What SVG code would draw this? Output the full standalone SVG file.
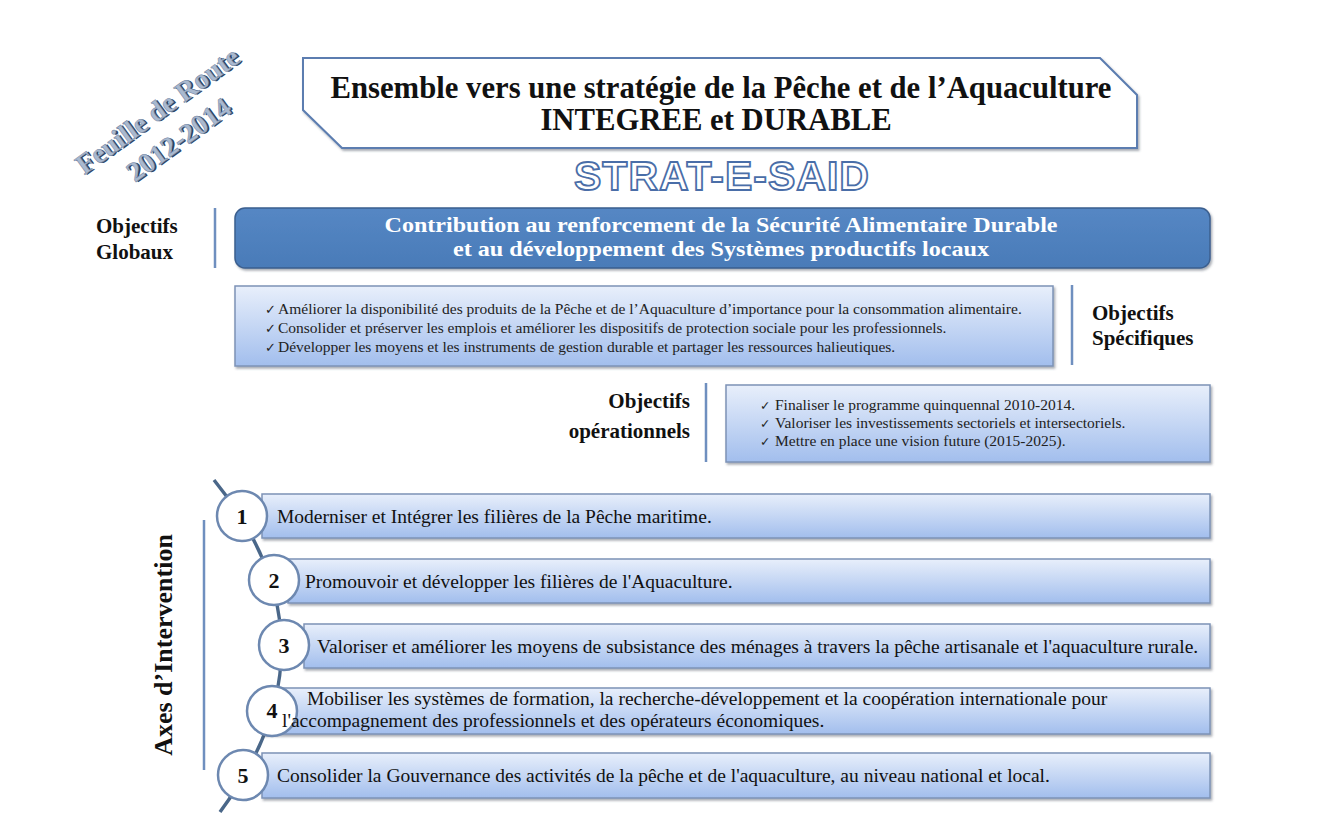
<svg xmlns="http://www.w3.org/2000/svg" width="1320" height="839" viewBox="0 0 1320 839">
<defs>
<linearGradient id="boxGrad" x1="0" y1="0" x2="0" y2="1">
<stop offset="0" stop-color="#e8effb"/>
<stop offset="1" stop-color="#a2beed"/>
</linearGradient>
<linearGradient id="banGrad" x1="0" y1="0" x2="0" y2="1">
<stop offset="0" stop-color="#5587c4"/>
<stop offset="1" stop-color="#4a7bb8"/>
</linearGradient>
<filter id="sh" x="-5%" y="-20%" width="110%" height="150%">
<feDropShadow dx="1.5" dy="2" stdDeviation="1.2" flood-color="#404a5a" flood-opacity="0.45"/>
</filter>
</defs>
<style>
.serif{font-family:"Liberation Serif","Times New Roman",serif}
.b{font-weight:bold}
.box{fill:url(#boxGrad);stroke:#7d93b6;stroke-width:1.5;filter:url(#sh)}
.ax{font-family:"Liberation Serif","Times New Roman",serif;font-size:19.5px;fill:#111}
.lst{font-family:"Liberation Serif","Times New Roman",serif;font-size:15.5px;fill:#222}
.ck{font-family:"DejaVu Sans",sans-serif}
.circ{fill:#fff;stroke:#6d88b0;stroke-width:2.5}
.num{font-family:"Liberation Serif","Times New Roman",serif;font-weight:bold;font-size:22px;fill:#111;text-anchor:middle}
.lbl{font-family:"Liberation Serif","Times New Roman",serif;font-weight:bold;font-size:21px;fill:#111}
.sep{stroke:#6f8fbf;stroke-width:2.5}
</style>
<rect width="1320" height="839" fill="#fff"/>

<g id="feuille-de-route" class="serif b" font-size="28" text-anchor="middle" transform="translate(163,118) rotate(-36)">
<text x="1.5" y="1.5" fill="#2c4466">Feuille de Route</text>
<text x="0" y="0" fill="#a9b9cf" stroke="#6b82a3" stroke-width="0.5">Feuille de Route</text>
<text x="1.5" y="37.5" fill="#2c4466">2012-2014</text>
<text x="0" y="36" fill="#a9b9cf" stroke="#6b82a3" stroke-width="0.5">2012-2014</text>
</g>

<g id="titre">
<path d="M303,58 L1100,58 L1137,95 L1137,148 L342,148 L303,110 Z" fill="#fff" stroke="#5b7db0" stroke-width="2" filter="url(#sh)"/>
<text class="serif b" font-size="30.7" x="721" y="98" text-anchor="middle" fill="#111">Ensemble vers une stratégie de la Pêche et de l’Aquaculture</text>
<text class="serif b" font-size="30.7" x="716" y="130" text-anchor="middle" fill="#111">INTEGREE et DURABLE</text>
</g>

<g id="strat-e-said">
<text x="722" y="190" text-anchor="middle" font-family="Liberation Sans,Arial,sans-serif" font-weight="bold" font-size="41" letter-spacing="1" fill="#fff" stroke="#4a6ea8" stroke-width="1.8">STRAT-E-SAID</text>
</g>

<g id="objectifs-globaux">
<text class="lbl" x="96" y="233" font-size="20">Objectifs</text>
<text class="lbl" x="96" y="259" font-size="20">Globaux</text>
<line class="sep" x1="215" y1="208" x2="215" y2="268"/>
<rect x="235" y="208" width="975" height="60" rx="10" fill="url(#banGrad)" stroke="#3b5f8f" stroke-width="1.5" filter="url(#sh)"/>
<text class="serif b" x="721" y="232" font-size="21" text-anchor="middle" fill="#fff" textLength="673" lengthAdjust="spacingAndGlyphs">Contribution au renforcement de la Sécurité Alimentaire Durable</text>
<text class="serif b" x="721" y="256" font-size="21" text-anchor="middle" fill="#fff" textLength="536" lengthAdjust="spacingAndGlyphs">et au développement des Systèmes productifs locaux</text>
</g>

<g id="objectifs-specifiques">
<rect class="box" x="235" y="286" width="818" height="80"/>
<text class="lst" y="314"><tspan class="ck" x="265" font-size="13">✓</tspan><tspan x="278">Améliorer la disponibilité des produits de la Pêche et de l’Aquaculture d’importance pour la consommation alimentaire.</tspan></text>
<text class="lst" y="333"><tspan class="ck" x="265" font-size="13">✓</tspan><tspan x="278">Consolider et préserver les emplois et améliorer les dispositifs de protection sociale pour les professionnels.</tspan></text>
<text class="lst" y="352"><tspan class="ck" x="265" font-size="13">✓</tspan><tspan x="278">Développer les moyens et les instruments de gestion durable et partager les ressources halieutiques.</tspan></text>
<line class="sep" x1="1072" y1="285" x2="1072" y2="365"/>
<text class="lbl" x="1092" y="320">Objectifs</text>
<text class="lbl" x="1092" y="345">Spécifiques</text>
</g>

<g id="objectifs-operationnels">
<text class="lbl" x="690" y="408" font-size="22" text-anchor="end">Objectifs</text>
<text class="lbl" x="690" y="438" font-size="22" text-anchor="end">opérationnels</text>
<line class="sep" x1="706" y1="383" x2="706" y2="462"/>
<rect class="box" x="726" y="385" width="484" height="77"/>
<text class="lst" y="410" font-size="14.5"><tspan class="ck" x="760" font-size="12.5">✓</tspan><tspan x="775">Finaliser le programme quinquennal 2010-2014.</tspan></text>
<text class="lst" y="428" font-size="14.5"><tspan class="ck" x="760" font-size="12.5">✓</tspan><tspan x="775">Valoriser les investissements sectoriels et intersectoriels.</tspan></text>
<text class="lst" y="446" font-size="14.5"><tspan class="ck" x="760" font-size="12.5">✓</tspan><tspan x="775">Mettre en place une vision future (2015-2025).</tspan></text>
</g>

<g id="axes-label">
<text class="serif b" font-size="26" fill="#111" text-anchor="middle" transform="translate(172,645) rotate(-90)">Axes d’Intervention</text>
<line class="sep" x1="204" y1="520" x2="204" y2="770"/>
</g>

<g id="connectors">
<path d="M214,480 C303,590 303,700 220,812" fill="none" stroke="#4a6789" stroke-width="3.5"/>
</g>

<g id="axe-1">
<rect class="box" x="262" y="494" width="948" height="44"/>
<circle class="circ" cx="242" cy="516" r="25"/>
<text class="num" x="242" y="524">1</text>
<text class="ax" x="277" y="523">Moderniser et Intégrer les filières de la Pêche maritime.</text>
</g>
<g id="axe-2">
<rect class="box" x="288" y="559" width="922" height="44"/>
<circle class="circ" cx="274" cy="580" r="25"/>
<text class="num" x="274" y="588">2</text>
<text class="ax" x="305" y="588">Promouvoir et développer les filières de l'Aquaculture.</text>
</g>
<g id="axe-3">
<rect class="box" x="304" y="624" width="906" height="44"/>
<circle class="circ" cx="284" cy="645" r="25"/>
<text class="num" x="284" y="653">3</text>
<text class="ax" x="317" y="653">Valoriser et améliorer les moyens de subsistance des ménages à travers la pêche artisanale et l'aquaculture rurale.</text>
</g>
<g id="axe-4">
<rect class="box" x="262" y="688" width="948" height="46"/>
<circle class="circ" cx="272" cy="711" r="25"/>
<text class="num" x="272" y="718">4</text>
<text class="ax" x="307" y="705">Mobiliser les systèmes de formation, la recherche-développement et la coopération internationale pour</text>
<text class="ax" x="282" y="727">l'accompagnement des professionnels et des opérateurs économiques.</text>
</g>
<g id="axe-5">
<rect class="box" x="262" y="753" width="948" height="45"/>
<circle class="circ" cx="243" cy="775" r="25"/>
<text class="num" x="243" y="783">5</text>
<text class="ax" x="277" y="782">Consolider la Gouvernance des activités de la pêche et de l'aquaculture, au niveau national et local.</text>
</g>
</svg>
